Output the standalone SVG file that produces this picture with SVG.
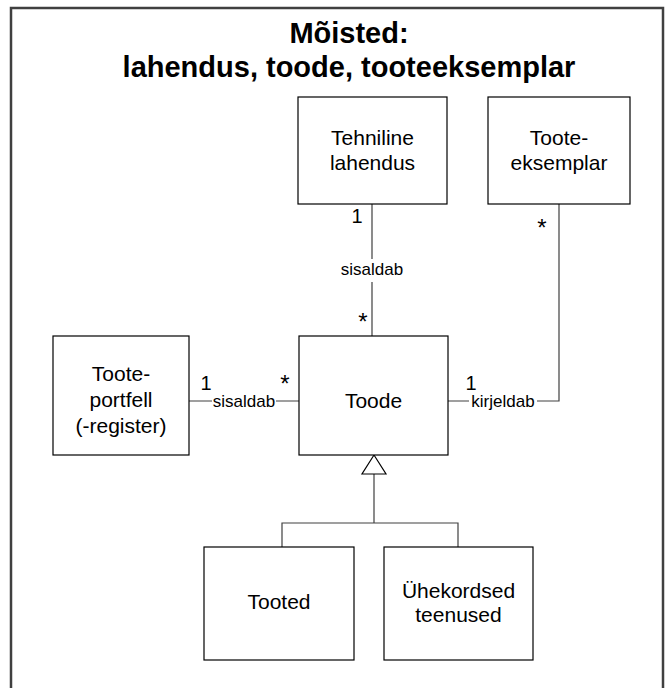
<svg xmlns="http://www.w3.org/2000/svg" width="672" height="688" viewBox="0 0 672 688">
  <style>
    .frame { fill: none; stroke: #404040; stroke-width: 2.5; }
    .box { fill: #ffffff; stroke: #000000; stroke-width: 1.2; }
    .title { font-family: "Liberation Sans", Arial, sans-serif; font-weight: bold; font-size: 29px; fill: #000; text-anchor: middle; }
    .name { font-family: "Liberation Sans", Arial, sans-serif; font-size: 21px; fill: #000; text-anchor: middle; }
    .lbl { font-family: "Liberation Sans", Arial, sans-serif; font-size: 17px; fill: #000; text-anchor: middle; }
    .mult { font-family: "Liberation Sans", Arial, sans-serif; font-size: 20px; fill: #000; text-anchor: middle; }
    .star { font-family: "Liberation Sans", Arial, sans-serif; font-size: 24px; fill: #000; text-anchor: middle; }
    .wire { fill: none; stroke: #404040; stroke-width: 1.2; }
    .gen { fill: #ffffff; stroke: #000000; stroke-width: 1.2; }
  </style>

  <rect width="672" height="688" fill="#ffffff"/>
  <rect class="frame" x="11" y="8" width="652" height="700"/>

  <g id="title">
    <text class="title" x="349" y="43">Mõisted:</text>
    <text class="title" x="349" y="77">lahendus, toode, tooteeksemplar</text>
  </g>

  <g id="connectors">
    <!-- Tehniline lahendus — Toode -->
    <path class="wire" d="M372 204 V259 M372 282 V336"/>
    <text class="lbl" x="372" y="275">sisaldab</text>
    <text class="mult" x="357" y="223">1</text>
    <text class="star" x="363" y="330">*</text>

    <!-- Tooteportfell — Toode -->
    <path class="wire" d="M189 401 H212 M276 401 H299"/>
    <text class="lbl" x="244" y="407">sisaldab</text>
    <text class="mult" x="206" y="390">1</text>
    <text class="star" x="285" y="392">*</text>

    <!-- Toode — Tooteeksemplar -->
    <path class="wire" d="M448 401 H469 M537 401 H559 V204"/>
    <text class="lbl" x="503" y="407">kirjeldab</text>
    <text class="mult" x="471" y="390">1</text>
    <text class="star" x="542" y="236">*</text>

    <!-- generalisation -->
    <path class="wire" d="M374 474 V523 M282 547 V523 H458 V547"/>
    <path class="gen" d="M374 455 L362 474 L386 474 Z"/>
  </g>

  <g id="tehniline-lahendus">
    <rect class="box" x="298" y="97" width="149" height="107"/>
    <text class="name" x="372.5" y="145">Tehniline</text>
    <text class="name" x="372.5" y="170">lahendus</text>
  </g>

  <g id="tooteeksemplar">
    <rect class="box" x="488" y="97" width="142" height="107"/>
    <text class="name" x="559" y="145">Toote-</text>
    <text class="name" x="559" y="170">eksemplar</text>
  </g>

  <g id="tooteportfell">
    <rect class="box" x="53" y="336" width="136" height="119"/>
    <text class="name" x="121" y="381">Toote-</text>
    <text class="name" x="121" y="407">portfell</text>
    <text class="name" x="121" y="433">(-register)</text>
  </g>

  <g id="toode">
    <rect class="box" x="299" y="336" width="149" height="119"/>
    <text class="name" x="373.5" y="408">Toode</text>
  </g>

  <g id="tooted">
    <rect class="box" x="204" y="547" width="150" height="113"/>
    <text class="name" x="279" y="609">Tooted</text>
  </g>

  <g id="uhekordsed-teenused">
    <rect class="box" x="384" y="547" width="149" height="113"/>
    <text class="name" x="458.5" y="598">Ühekordsed</text>
    <text class="name" x="458.5" y="622">teenused</text>
  </g>
</svg>
